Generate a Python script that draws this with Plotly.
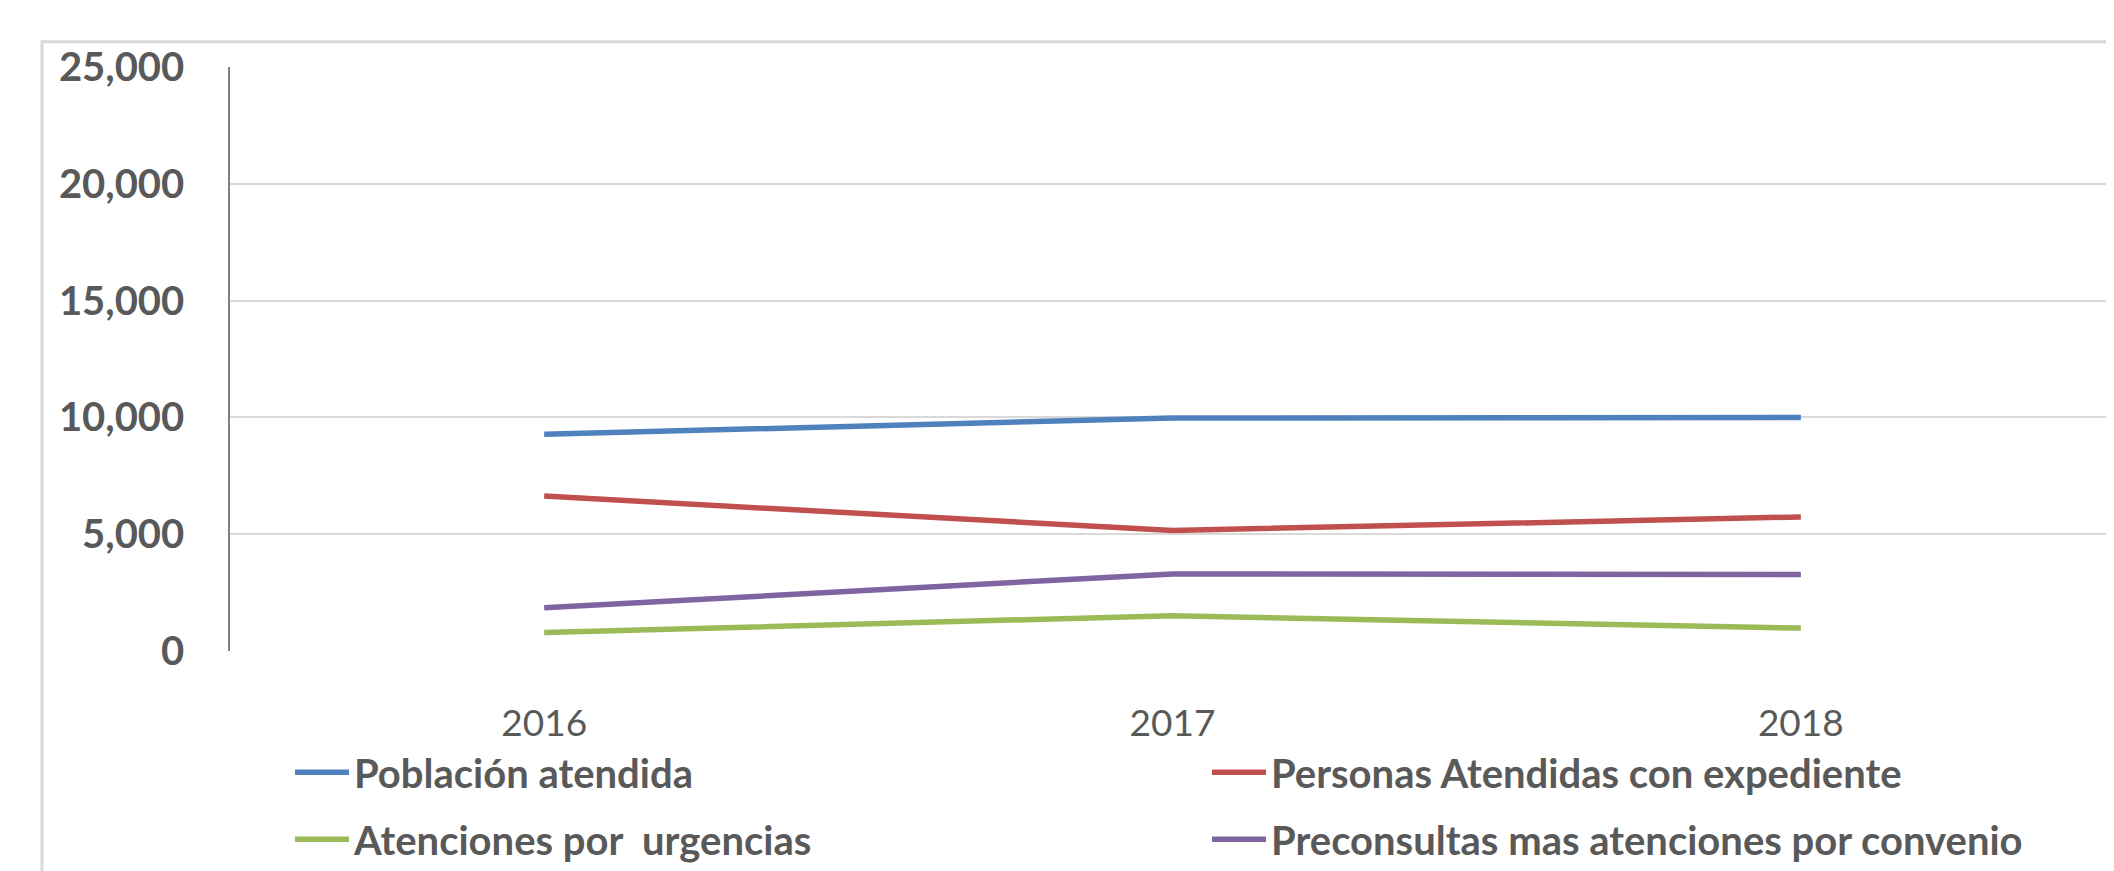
import plotly.graph_objects as go

years = ["2016", "2017", "2018"]
poblacion = [9280, 9970, 10000]
expediente = [6630, 5160, 5740]
urgencias = [790, 1510, 980]
preconsultas = [1850, 3300, 3270]

names = ["Población atendida", "Personas Atendidas con expediente",
         "Atenciones por  urgencias", "Preconsultas mas atenciones por convenio"]
colors = ["#4F81BD", "#C0504D", "#9BBB59", "#8064A2"]
series = [poblacion, expediente, urgencias, preconsultas]
legend_ids = ["legend", "legend2", "legend3", "legend4"]

W, H = 2114, 871
ML, MR, MT, MB = 222, 7, 59, 210
PW, PH = W - ML - MR, H - MT - MB

def px_x(x):
    return (x - ML) / PW

def px_y(y):
    return (H - MB - y) / PH

fig = go.Figure()
for name, col, vals, lg in zip(names, colors, series, legend_ids):
    fig.add_trace(go.Scatter(x=years, y=vals, mode="lines", name=name,
                             line=dict(color=col, width=5.5), legend=lg))

legfont = dict(family="Lato, Open Sans, sans-serif", size=40,
               color="#595959", weight="bold")
leg_pos = [(282, 786), (1199, 786), (282, 855), (1199, 855)]
layout_legends = {}
for lg, (lx, ly) in zip(legend_ids, leg_pos):
    layout_legends[lg] = dict(x=px_x(lx), y=px_y(ly), xanchor="left", yanchor="middle",
                              font=legfont, itemwidth=54, bgcolor="rgba(0,0,0,0)",
                              borderwidth=0, orientation="h")

fig.update_layout(
    width=W, height=H,
    margin=dict(l=ML, r=MR, t=MT, b=MB),
    paper_bgcolor="white", plot_bgcolor="white",
    showlegend=True,
    xaxis=dict(type="category", range=[-0.5, 2.5], showgrid=False, zeroline=False,
               showline=False, ticks="",
               tickfont=dict(family="Lato, Open Sans, sans-serif", size=37, color="#595959"),
               ticklabelstandoff=47),
    yaxis=dict(range=[0, 25000], dtick=5000, tickformat=",d", showgrid=True,
               gridcolor="#D9D9D9", gridwidth=1.5, zeroline=False,
               showline=True, linecolor="#808080", linewidth=1.5, ticks="",
               tickfont=dict(family="Lato, Open Sans, sans-serif", size=40, color="#595959",
                             weight="bold"),
               ticklabelstandoff=36),
    shapes=[dict(type="rect", xref="paper", yref="paper",
                 x0=px_x(34), x1=px_x(2200), y0=px_y(1000), y1=px_y(33),
                 line=dict(color="#D9D9D9", width=3), layer="below")],
    **layout_legends,
)

fig.write_html("out.html")
